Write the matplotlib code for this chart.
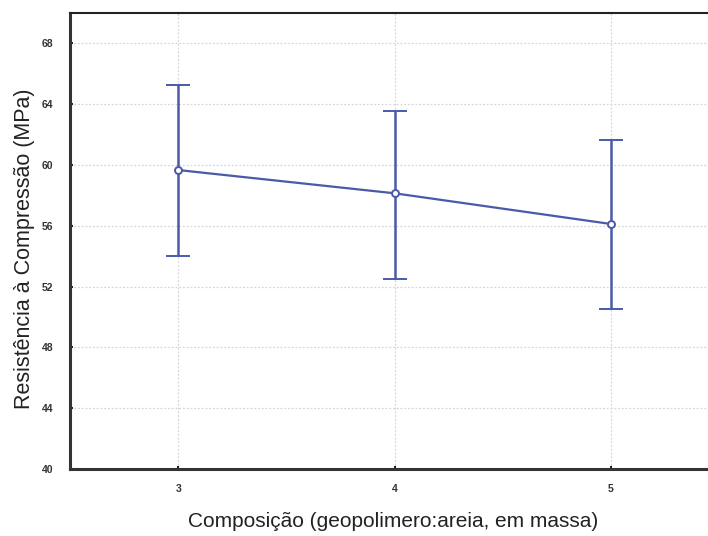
import matplotlib.pyplot as plt

plt.rcParams["font.family"] = ["Liberation Sans", "DejaVu Sans"]

composicao = [3, 4, 5]
media = [59.67, 58.14, 56.12]
superior = [65.26, 63.57, 61.64]
inferior = [54.0, 52.48, 50.53]

err_baixo = [m - l for m, l in zip(media, inferior)]
err_cima = [u - m for u, m in zip(superior, media)]

cor = "#4a5aa8"

fig = plt.figure(figsize=(7.08, 5.36), dpi=100)
fig.patch.set_facecolor("white")
ax = fig.add_axes([0.0989, 0.125, 0.9167, 0.8507])

ax.errorbar(composicao, media, yerr=[err_baixo, err_cima], color=cor, lw=1.6,
            elinewidth=1.8, capsize=8.3, capthick=1.8, marker="o", ms=5,
            mfc="white", mec=cor, mew=1.4, zorder=3)

ax.set_xlim(2.5, 5.5)
ax.set_ylim(40, 70)
ax.set_xticks(composicao)
ax.set_yticks(range(40, 69, 4))
ax.grid(True, color="#d6d6d6", ls=(0, (1.5, 1.5)), lw=0.9)
ax.tick_params(direction="in", length=2, width=1.5, labelsize=7.5, colors="#222222",
               labelcolor="#333333")
ax.tick_params(axis="y", pad=12)
ax.tick_params(axis="x", pad=11)
for lab in ax.get_xticklabels() + ax.get_yticklabels():
    lab.set_fontweight("bold")

ax.spines["left"].set_linewidth(2.2)
ax.spines["bottom"].set_linewidth(2.2)
ax.spines["top"].set_linewidth(1.5)
ax.spines["left"].set_color("#333333")
ax.spines["bottom"].set_color("#333333")
ax.spines["top"].set_color("#222222")

ax.set_xlabel("Composição (geopolimero:areia, em massa)", fontsize=15,
              color="#222222")
ax.set_ylabel("Resistência à Compressão (MPa)", fontsize=15.5,
              color="#222222")
ax.xaxis.set_label_coords(0.498, -0.094)
ax.yaxis.set_label_coords(-0.054, 0.482)

fig.savefig("out.png", dpi=100)
